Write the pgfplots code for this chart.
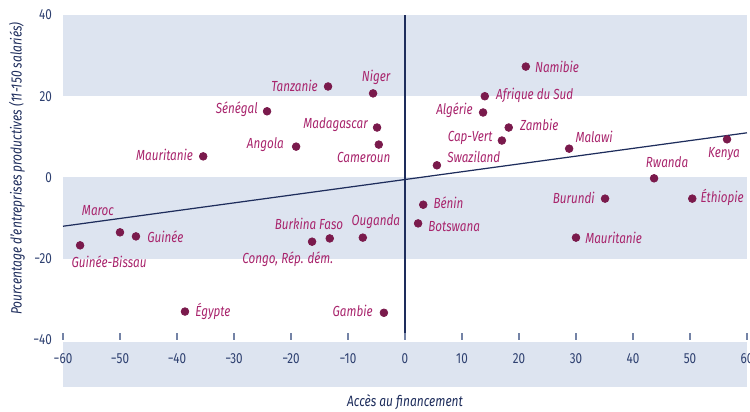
\documentclass[border=0pt]{standalone}
\usepackage{fontspec}
\setmainfont{Fira Sans}[FakeStretch=0.8]
\usepackage{pgfplots}
\pgfplotsset{compat=1.18}
\definecolor{band}{HTML}{DDE4F0}
\definecolor{dotc}{HTML}{7A1A4C}
\definecolor{labc}{HTML}{A8246C}
\definecolor{navy}{HTML}{1E2D5C}
\definecolor{tickc}{HTML}{2E4070}
\definecolor{tickm}{HTML}{7483A6}
\tikzset{labtxt/.style={text=labc, font=\fontsize{8.3}{9}\selectfont\itshape, inner sep=0pt}}
\newcommand{\lab}[6]{\node[labtxt, anchor=#3, xshift=#4*0.02cm, yshift=#5*0.02cm] at (axis cs:#1,#2) {#6};}
\begin{document}
\begin{tikzpicture}
\path[use as bounding box] (-1.26,-1.44) rectangle (13.74,6.8);
\begin{axis}[
  scale only axis, width=13.68cm, height=6.5cm,
  xmin=-60, xmax=60, ymin=-40, ymax=40,
  clip=false, axis on top,
  axis line style={draw=none},
  xtick={-60,-50,...,60},
  xticklabels={−60,−50,−40,−30,−20,−10,0,10,20,30,40,50,60},
  ytick={-40,-20,0,20,40},
  yticklabels={−40,−20,0,20,40},
  xtick pos=bottom, ytick pos=left,
  tick align=inside,
  major tick length=0.14cm,
  xtick style={draw=tickm, line width=0.9pt},
  ytick style={draw=none},
  ticklabel style={text=tickc, font=\fontsize{8.3}{9}\selectfont},
  xticklabel style={yshift=-0.14cm},
  yticklabel style={xshift=-0.1cm},
]
\fill[band] (axis cs:-60,20) rectangle (axis cs:60,40);
\fill[band] (axis cs:-60,-20) rectangle (axis cs:60,0);
\fill[band] (axis cs:-60,-40.4) rectangle (axis cs:60,-51.6);
\addplot[navy, line width=0.7pt] coordinates {(0,-40) (0,40)};
\addplot[navy, line width=0.7pt] coordinates {(-60,-12.0) (60,11.0)};
\addplot[only marks, mark=*, mark size=2.2pt, dotc] table {
x y
21.2 27.3
-13.5 22.4
-5.6 20.7
-24.2 16.3
14.0 20.0
13.7 16.0
-4.9 12.3
18.2 12.3
17.0 9.1
28.8 7.1
56.5 9.4
-19.1 7.6
-4.6 8.1
-35.4 5.2
5.6 3.0
43.7 -0.2
3.2 -6.7
2.3 -11.3
35.1 -5.2
50.4 -5.2
-50.0 -13.5
-47.2 -14.5
-57.0 -16.7
-16.3 -15.8
-13.2 -15.0
-7.4 -14.8
30.0 -14.8
-38.6 -33.0
-3.7 -33.3
};
\lab{21.2}{27.3}{west}{9}{0}{Namibie}
\lab{-13.5}{22.4}{east}{-10}{1}{Tanzanie}
\lab{-5.6}{20.7}{center}{3}{16}{Niger}
\lab{-24.2}{16.3}{east}{-9}{2}{Sénégal}
\lab{14.0}{20.0}{west}{11}{1}{Afrique du Sud}
\lab{13.7}{16.0}{east}{-10}{2}{Algérie}
\lab{-4.9}{12.3}{east}{-9}{3}{Madagascar}
\lab{18.2}{12.3}{west}{11}{3}{Zambie}
\lab{17.0}{9.1}{east}{-9}{3}{Cap-Vert}
\lab{28.8}{7.1}{west}{6}{12}{Malawi}
\lab{56.5}{9.4}{center}{-3}{-15}{Kenya}
\lab{-19.1}{7.6}{east}{-12}{2}{Angola}
\lab{-4.6}{8.1}{center}{-15}{-13}{Cameroun}
\lab{-35.4}{5.2}{east}{-10}{1}{Mauritanie}
\lab{5.6}{3.0}{west}{10}{8}{Swaziland}
\lab{43.7}{-0.2}{center}{13}{16}{Rwanda}
\lab{3.2}{-6.7}{west}{10}{2}{Bénin}
\lab{2.3}{-11.3}{west}{10}{-3}{Botswana}
\lab{35.1}{-5.2}{east}{-10}{1}{Burundi}
\lab{50.4}{-5.2}{west}{8}{1}{Éthiopie}
\lab{-50.0}{-13.5}{center}{-22}{22}{Maroc}
\lab{-47.2}{-14.5}{west}{11}{0}{Guinée}
\lab{-57.0}{-16.7}{center}{29}{-16}{Guinée-Bissau}
\lab{-16.3}{-15.8}{center}{-3}{18}{Burkina Faso}
\lab{-13.2}{-15.0}{center}{-42}{-21}{Congo, Rép. dém.}
\lab{-7.4}{-14.8}{center}{13}{16}{Ouganda}
\lab{30.0}{-14.8}{west}{9}{0}{Mauritanie}
\lab{-38.6}{-33.0}{west}{10}{0}{Égypte}
\lab{-3.7}{-33.3}{east}{-11}{2}{Gambie}
\node[text=navy, font=\fontsize{8.5}{9}\selectfont\itshape, xshift=-0.92cm, yshift=0.18cm, rotate=90] at (rel axis cs:0,0.5) {Pourcentage d'entreprises productives (11-150 salariés)};
\node[text=navy, font=\fontsize{8.5}{9}\selectfont\itshape] at (rel axis cs:0.5,0) [yshift=-1.24cm] {Accès au financement};
\end{axis}
\end{tikzpicture}
\end{document}
